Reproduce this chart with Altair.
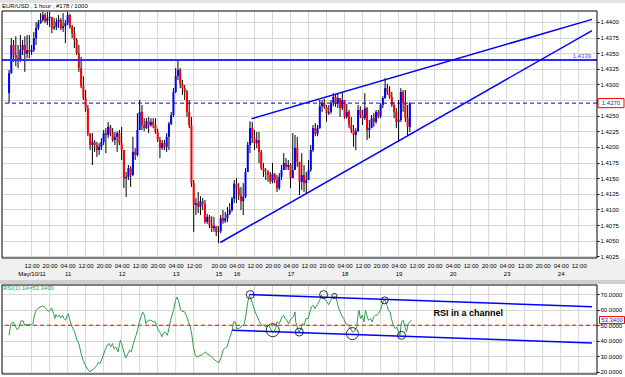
import altair as alt
import pandas as pd

# ---------------- data ----------------
FIRST_BAR = -10          # bar index of first visible hourly candle (bar 0 = May/10 12:00)
OPEN_FIRST = 1.4286

CLOSE = [
    1.4318, 1.4363, 1.4347, 1.4342, 1.4339, 1.4355, 1.4363, 1.4349, 1.4355, 1.4352,
    1.4355, 1.4374, 1.4390, 1.4398, 1.4403, 1.4411, 1.4401, 1.4406, 1.4408, 1.4390,
    1.4392, 1.4400, 1.4403, 1.4390, 1.4393, 1.4398, 1.4411, 1.4392, 1.4382, 1.4371,
    1.4350, 1.4326, 1.4297, 1.4278, 1.4262, 1.4221, 1.4203, 1.4208, 1.4203, 1.4195,
    1.4200, 1.4208, 1.4222, 1.4219, 1.4232, 1.4222, 1.4211, 1.4216, 1.4222, 1.4206,
    1.4195, 1.4150, 1.4152, 1.4166, 1.4155, 1.4192, 1.4187, 1.4227, 1.4256, 1.4235,
    1.4230, 1.4241, 1.4235, 1.4240, 1.4235, 1.4224, 1.4211, 1.4198, 1.4206, 1.4200,
    1.4216, 1.4237, 1.4251, 1.4288, 1.4313, 1.4323, 1.4301, 1.4294, 1.4288, 1.4256,
    1.4235, 1.4142, 1.4107, 1.4110, 1.4104, 1.4113, 1.4109, 1.4080, 1.4088, 1.4075,
    1.4070, 1.4073, 1.4064, 1.4065, 1.4086, 1.4081, 1.4086, 1.4093, 1.4099, 1.4117,
    1.4141, 1.4134, 1.4122, 1.4113, 1.4120, 1.4160, 1.4203, 1.4230, 1.4214, 1.4206,
    1.4211, 1.4192, 1.4166, 1.4160, 1.4160, 1.4155, 1.4145, 1.4157, 1.4147, 1.4134,
    1.4152, 1.4163, 1.4174, 1.4168, 1.4171, 1.4150, 1.4163, 1.4198, 1.4176, 1.4144,
    1.4155, 1.4142, 1.4147, 1.4163, 1.4195, 1.4230, 1.4221, 1.4230, 1.4265, 1.4270,
    1.4264, 1.4254, 1.4256, 1.4270, 1.4280, 1.4269, 1.4278, 1.4262, 1.4275, 1.4248,
    1.4256, 1.4235, 1.4227, 1.4219, 1.4225, 1.4259, 1.4251, 1.4246, 1.4262, 1.4227,
    1.4230, 1.4246, 1.4240, 1.4256, 1.4249, 1.4267, 1.4278, 1.4294, 1.4288, 1.4280,
    1.4267, 1.4256, 1.4240, 1.4243, 1.4288, 1.4270, 1.4246, 1.4232, 1.4270,
]
HIGH = [
    1.4323, 1.4374, 1.4371, 1.4377, 1.4363, 1.4379, 1.4371, 1.4377, 1.4379, 1.4379,
    1.4363, 1.4384, 1.4400, 1.4403, 1.4414, 1.4416, 1.4414, 1.4416, 1.4416, 1.4408,
    1.4406, 1.4406, 1.4411, 1.4406, 1.4414, 1.4403, 1.4416, 1.4413, 1.4395, 1.4392,
    1.4374, 1.4363, 1.4344, 1.4313, 1.4291, 1.4267, 1.4222, 1.4222, 1.4211, 1.4208,
    1.4206, 1.4214, 1.4227, 1.4230, 1.4240, 1.4235, 1.4230, 1.4224, 1.4225, 1.4227,
    1.4232, 1.4195, 1.4160, 1.4171, 1.4169, 1.4216, 1.4198, 1.4254, 1.4275, 1.4267,
    1.4246, 1.4246, 1.4248, 1.4246, 1.4246, 1.4246, 1.4229, 1.4216, 1.4211, 1.4211,
    1.4222, 1.4240, 1.4256, 1.4294, 1.4326, 1.4339, 1.4326, 1.4307, 1.4299, 1.4291,
    1.4275, 1.4248, 1.4147, 1.4118, 1.4128, 1.4121, 1.4118, 1.4115, 1.4093, 1.4091,
    1.4089, 1.4088, 1.4073, 1.4073, 1.4091, 1.4099, 1.4096, 1.4104, 1.4110, 1.4120,
    1.4147, 1.4150, 1.4142, 1.4136, 1.4142, 1.4166, 1.4208, 1.4241, 1.4240, 1.4227,
    1.4224, 1.4224, 1.4195, 1.4174, 1.4166, 1.4163, 1.4160, 1.4174, 1.4158, 1.4155,
    1.4158, 1.4171, 1.4190, 1.4182, 1.4179, 1.4174, 1.4222, 1.4219, 1.4216, 1.4171,
    1.4190, 1.4171, 1.4160, 1.4179, 1.4203, 1.4235, 1.4238, 1.4235, 1.4275, 1.4275,
    1.4277, 1.4267, 1.4267, 1.4275, 1.4286, 1.4283, 1.4286, 1.4278, 1.4288, 1.4275,
    1.4269, 1.4259, 1.4248, 1.4235, 1.4230, 1.4267, 1.4265, 1.4259, 1.4286, 1.4264,
    1.4243, 1.4251, 1.4254, 1.4259, 1.4259, 1.4270, 1.4281, 1.4310, 1.4301, 1.4297,
    1.4288, 1.4272, 1.4262, 1.4275, 1.4294, 1.4291, 1.4291, 1.4267, 1.4272,
]
LOW = [
    1.4270, 1.4317, 1.4336, 1.4329, 1.4326, 1.4336, 1.4347, 1.4320, 1.4342, 1.4342,
    1.4347, 1.4352, 1.4363, 1.4387, 1.4397, 1.4400, 1.4398, 1.4395, 1.4392, 1.4382,
    1.4387, 1.4387, 1.4390, 1.4387, 1.4384, 1.4366, 1.4395, 1.4389, 1.4374, 1.4358,
    1.4347, 1.4320, 1.4294, 1.4275, 1.4256, 1.4217, 1.4195, 1.4171, 1.4192, 1.4184,
    1.4187, 1.4195, 1.4203, 1.4190, 1.4214, 1.4217, 1.4208, 1.4203, 1.4192, 1.4203,
    1.4179, 1.4134, 1.4120, 1.4147, 1.4136, 1.4153, 1.4179, 1.4185, 1.4227, 1.4227,
    1.4225, 1.4229, 1.4222, 1.4232, 1.4230, 1.4221, 1.4208, 1.4182, 1.4195, 1.4195,
    1.4192, 1.4195, 1.4235, 1.4248, 1.4286, 1.4307, 1.4294, 1.4283, 1.4275, 1.4248,
    1.4230, 1.4136, 1.4064, 1.4091, 1.4094, 1.4091, 1.4099, 1.4077, 1.4077, 1.4070,
    1.4064, 1.4064, 1.4057, 1.4046, 1.4062, 1.4077, 1.4078, 1.4080, 1.4091, 1.4096,
    1.4110, 1.4110, 1.4115, 1.4099, 1.4091, 1.4118, 1.4160, 1.4190, 1.4206, 1.4195,
    1.4198, 1.4174, 1.4163, 1.4152, 1.4147, 1.4144, 1.4141, 1.4142, 1.4142, 1.4128,
    1.4131, 1.4147, 1.4163, 1.4163, 1.4163, 1.4134, 1.4155, 1.4163, 1.4168, 1.4123,
    1.4131, 1.4128, 1.4125, 1.4150, 1.4160, 1.4192, 1.4217, 1.4217, 1.4229, 1.4256,
    1.4261, 1.4240, 1.4251, 1.4253, 1.4265, 1.4264, 1.4262, 1.4248, 1.4259, 1.4245,
    1.4245, 1.4230, 1.4222, 1.4200, 1.4195, 1.4224, 1.4246, 1.4235, 1.4243, 1.4211,
    1.4214, 1.4230, 1.4232, 1.4237, 1.4246, 1.4246, 1.4262, 1.4277, 1.4283, 1.4277,
    1.4264, 1.4246, 1.4230, 1.4208, 1.4240, 1.4256, 1.4240, 1.4219, 1.4224,
]

PRICE_TICKS = [1.4025, 1.4050, 1.4075, 1.4100, 1.4125, 1.4150, 1.4175, 1.4200,
               1.4225, 1.4250, 1.4275, 1.4300, 1.4325, 1.4350, 1.4375, 1.4400]
PRICE_HIDDEN_LABEL = 1.4275   # covered by the current-price tag in the reference
PRICE_DOMAIN = [1.40222, 1.44174]
RESIST_LEVEL = 1.4339
WEDGE_UPPER_BAR = [97.7, 248.9]
WEDGE_UPPER_PRICE = [1.4245, 1.4404]
WEDGE_LOWER_BAR = [83.8, 248.9]
WEDGE_LOWER_PRICE = [1.4047, 1.4386]

TIME_BARS = [0, 8, 16, 24, 32, 40, 48, 56, 64, 72, 83, 91, 99, 107, 115, 123, 131,
             139, 147, 155, 163, 171, 179, 187, 195, 203, 211, 219, 227, 235, 243]
TIME_LABELS = ["12:00", "20:00", "04:00", "12:00", "20:00", "04:00", "12:00", "20:00",
               "04:00", "12:00", "20:00", "04:00", "12:00", "20:00", "04:00", "12:00",
               "20:00", "04:00", "12:00", "20:00", "04:00", "12:00", "20:00", "04:00",
               "12:00", "20:00", "04:00", "12:00", "20:00", "04:00", "12:00"]
DAY_BARS = [0, 16, 40, 64, 83, 91, 115, 139, 163, 187, 211, 235]
DAY_LABELS = ["May/10/11", "11", "12", "13", "15", "16", "17", "18", "19", "20", "23", "24"]

RSI_BAR = [
    -10.0, -9.2, -8.2, -7.1, -6.3, -5.7, -4.8, -3.8, -3.1, -2.3,
    -1.3, -0.1, 0.6, 1.3, 2.0, 2.8, 3.9, 4.9, 5.7, 6.4,
    7.4, 8.3, 8.9, 9.8, 10.3, 10.8, 11.5, 12.2, 13.0, 13.7,
    14.4, 15.1, 15.9, 16.3, 17.0, 18.0, 19.1, 20.2, 21.0, 22.0,
    22.9, 23.9, 24.9, 25.8, 26.8, 27.8, 29.0, 29.7, 30.4, 31.6,
    32.6, 33.6, 34.5, 35.1, 36.0, 36.5, 37.4, 38.4, 39.4, 39.9,
    40.6, 41.8, 42.8, 43.5, 44.3, 45.0, 45.7, 46.4, 47.2, 47.9,
    48.6, 49.3, 50.1, 50.8, 51.9, 53.0, 54.0, 54.9, 55.5, 56.3,
    57.4, 57.8, 58.4, 59.2, 60.3, 61.0, 61.7, 62.4, 63.2, 63.9,
    64.6, 65.4, 66.1, 66.8, 68.0, 69.0, 69.7, 70.5, 71.2, 71.9,
    72.6, 73.4, 74.4, 75.3, 76.3, 77.3, 78.2,
    79.2, 80.6, 82.1, 83.3, 84.3, 85.0, 85.7, 86.8, 87.9, 89.1,
    89.7, 90.5, 91.1, 92.0, 93.0, 93.7, 94.5, 95.2, 95.9, 96.7,
    97.4, 98.1, 98.8, 99.6, 100.3, 101.0, 101.7, 102.5, 103.2, 103.9,
    105.4, 106.1, 106.8, 107.6, 108.3, 109.0, 110.0, 111.2, 111.9, 112.6,
    113.4, 114.1, 115.3, 116.3, 117.0, 117.3, 118.2, 118.8, 119.7, 120.2,
    121.1, 121.8, 122.9, 123.6, 124.3, 125.0, 125.8, 126.9, 127.9, 128.7,
    129.4, 130.1, 131.3, 131.9, 132.8, 134.1, 135.1, 135.7, 136.2, 137.1,
    137.7, 138.6, 139.6, 140.6, 141.8, 142.5, 143.2, 144.4, 145.0, 145.4,
    146.1, 146.9, 147.6, 148.3, 148.9, 149.6, 150.5, 151.2, 152.0, 152.7,
    153.4, 154.1, 154.9, 155.6, 156.3, 157.0, 157.8, 158.5, 159.2, 160.0,
    160.7, 161.4, 162.2, 162.9, 163.6, 164.3, 165.1, 165.8, 166.5, 167.3,
    168.0, 168.7,
]
RSI_VAL = [
    43.5, 51.0, 52.0, 49.0, 47.0, 48.0, 52.6, 53.0, 50.0, 50.4,
    50.4, 50.4, 51.0, 56.5, 59.7, 60.8, 61.8, 62.5, 61.8, 60.8,
    59.0, 59.7, 61.2, 57.5, 54.3, 56.9, 55.4, 56.5, 54.7, 56.5,
    54.3, 53.2, 56.5, 57.5, 53.2, 48.9, 45.7, 40.3, 38.2, 31.7,
    27.4, 24.2, 21.6, 19.9, 21.0, 22.0, 24.2, 26.3, 25.2, 29.5,
    33.9, 37.1, 38.2, 36.0, 38.2, 34.9, 36.0, 32.8, 40.3, 38.2,
    34.9, 28.9, 31.7, 33.9, 32.8, 37.1, 40.3, 43.5, 47.8, 52.2,
    55.4, 58.6, 56.5, 51.0, 53.2, 53.2, 52.2, 52.2, 50.0, 46.8,
    44.6, 42.5, 44.6, 45.7, 43.5, 47.8, 53.2, 56.5, 60.8, 66.1,
    68.3, 65.1, 60.3, 59.0, 58.6, 55.4, 52.2, 48.9, 43.5, 36.0,
    31.1, 29.5, 30.2, 30.6, 31.7, 32.8, 31.1,
    30.6, 28.5, 26.7, 25.9, 29.5, 33.9, 34.9, 36.0, 41.4, 46.8,
    52.2, 52.2, 47.8, 47.8, 48.9, 50.0, 51.0, 56.5, 64.0, 69.4,
    67.2, 64.0, 60.8, 57.5, 55.4, 53.2, 51.0, 49.6, 50.4, 48.9,
    50.0, 47.8, 45.7, 45.7, 47.8, 52.2, 51.0, 55.4, 56.5, 54.3,
    53.2, 51.0, 54.3, 55.4, 58.6, 52.2, 47.8, 45.7, 47.8, 51.0,
    50.0, 54.3, 54.3, 58.6, 61.8, 62.9, 60.8, 63.3, 66.1, 69.4,
    68.3, 66.8, 65.1, 63.3, 66.1, 68.3, 68.3, 65.1, 61.8, 58.6,
    56.5, 54.3, 51.0, 50.0, 47.8, 45.7, 45.7, 48.9, 56.5, 59.7,
    54.3, 56.5, 52.2, 59.7, 56.5, 53.2, 54.3, 52.2, 55.4, 56.5,
    56.5, 57.5, 59.7, 62.9, 66.1, 66.1, 62.9, 59.7, 58.6, 53.2,
    50.0, 47.8, 48.9, 45.7, 43.5, 52.2, 53.2, 48.9, 45.7, 51.0,
    52.2, 53.3,
]
RSI_LAST = 53.34
RSI_TICKS = [20, 30, 40, 50, 60, 70]
RSI_DOMAIN = [18.5, 76.0]
RSI_MID = 50
CH_UPPER_BAR = [96.7, 248.9]
CH_UPPER_RSI = [69.8, 62.0]
CH_LOWER_BAR = [89.1, 248.9]
CH_LOWER_RSI = [46.8, 38.6]
CIRC_BAR = [97.1, 107.1, 118.9, 129.7, 134.5, 142.5, 156.8, 164.3]
CIRC_RSI = [69.8, 46.8, 45.6, 69.8, 69.0, 44.6, 66.1, 43.5]
CIRC_DIAM = [8, 13, 8, 8, 5, 12, 7, 8]
NOTE_TEXT = "RSI in a channel"
NOTE_BAR, NOTE_RSI = 193.9, 57.6
HEADER = "EUR/USD , 1 hour , #178 / 1000"

# ---------------- styles ----------------
FONT = "Liberation Sans"
GRID = "#d6d6d6"
BLUE = "#0000ff"
RED = "#ff0000"
GREEN = "#2f9e4a"

X = alt.Scale(domain=[-10.92, 248.9], nice=False, zero=False)
YP = alt.Scale(domain=PRICE_DOMAIN, range=[247, 0], nice=False, zero=False)
YR = alt.Scale(domain=RSI_DOMAIN, range=[363, 274], nice=False, zero=False)

one = pd.DataFrame({"k": [0]})


def expr_map(bars, labels):
    parts = [f"datum.value == {b} ? '{l}'" for b, l in zip(bars, labels)]
    return " : ".join(parts) + " : ''"


def x_axis(bars, labels, pad):
    return alt.Axis(values=bars, labelExpr=expr_map(bars, labels), orient="bottom",
                    offset=-116, ticks=False, domain=False, grid=False, labelFontSize=6,
                    labelFont=FONT, labelColor="black", labelPadding=pad, labelFlush=False,
                    labelOverlap=False, title=None, zindex=1)


def y_axis(values, label_expr=None):
    kw = dict(orient="right", values=values, format=".4f", labelFontSize=6,
              labelFont=FONT, labelColor="black", tickSize=2, tickColor="black",
              domain=False, grid=True, gridColor=GRID, gridWidth=1, labelPadding=1,
              labelFlush=False, labelOverlap=False, title=None)
    if label_expr:
        kw["labelExpr"] = label_expr
    return alt.Axis(**kw)


def rect(x0, x1, y0, y1, fill, stroke=None):
    kw = dict(fill=fill, strokeWidth=0)
    if stroke:
        kw = dict(fill="white", fillOpacity=0, stroke=stroke, strokeWidth=1)
    return alt.Chart(one).mark_rect(**kw).encode(
        x=alt.value(x0), x2=alt.value(x1), y=alt.value(y0), y2=alt.value(y1))


def text_at(x, y, txt, **kw):
    return alt.Chart(pd.DataFrame({"t": [txt]})).mark_text(font=FONT, **kw).encode(
        x=alt.value(x), y=alt.value(y), text="t:N")


# ---------------- candles ----------------
n = len(CLOSE)
opens = [OPEN_FIRST] + CLOSE[:-1]
cdf = pd.DataFrame({
    "bar": list(range(FIRST_BAR, FIRST_BAR + n)),
    "open": opens, "close": CLOSE,
    "hi": [max(h, o, c) for h, o, c in zip(HIGH, opens, CLOSE)],
    "lo": [min(l, o, c) for l, o, c in zip(LOW, opens, CLOSE)],
})
cdf["dir"] = ["up" if c >= o else "down" for o, c in zip(opens, CLOSE)]

vg_main = pd.DataFrame({"bar": TIME_BARS, "top": PRICE_DOMAIN[1], "bot": PRICE_DOMAIN[0]})
vgrid_main = alt.Chart(vg_main).mark_rule(color=GRID, strokeWidth=1).encode(
    x=alt.X("bar:Q", scale=X, axis=x_axis(TIME_BARS, TIME_LABELS, 4)),
    y=alt.Y("top:Q", scale=YP, axis=None), y2="bot:Q")

price_label_expr = (f"abs(datum.value - {PRICE_HIDDEN_LABEL}) < 0.00001 ? '' : "
                    "format(datum.value, '.4f')")
wicks = alt.Chart(cdf).mark_rule(color="black", strokeWidth=1).encode(
    x=alt.X("bar:Q", scale=X, axis=None),
    y=alt.Y("lo:Q", scale=YP, axis=y_axis(PRICE_TICKS, price_label_expr)), y2="hi:Q")

bodies = alt.Chart(cdf).mark_bar(size=2).encode(
    x=alt.X("bar:Q", scale=X, axis=None),
    y=alt.Y("open:Q", scale=YP, axis=None), y2="close:Q",
    color=alt.Color("dir:N", scale=alt.Scale(domain=["up", "down"], range=[BLUE, RED]),
                    legend=None))

resist = alt.Chart(pd.DataFrame({"p": [RESIST_LEVEL]})).mark_rule(
    color="#2b2bff", strokeWidth=2).encode(y=alt.Y("p:Q", scale=YP, axis=None))
last_line = alt.Chart(pd.DataFrame({"p": [CLOSE[-1]]})).mark_rule(
    color=BLUE, strokeWidth=1, strokeDash=[4, 3]).encode(y=alt.Y("p:Q", scale=YP, axis=None))

wedge_df = pd.DataFrame({
    "bar": WEDGE_UPPER_BAR + WEDGE_LOWER_BAR,
    "price": WEDGE_UPPER_PRICE + WEDGE_LOWER_PRICE,
    "id": ["u", "u", "l", "l"]})
wedge = alt.Chart(wedge_df).mark_line(color=BLUE, strokeWidth=1.5).encode(
    x=alt.X("bar:Q", scale=X, axis=None), y=alt.Y("price:Q", scale=YP, axis=None),
    detail="id:N")

resist_lbl = alt.Chart(pd.DataFrame({"bar": [248.5], "p": [RESIST_LEVEL],
                                     "t": [f"{RESIST_LEVEL:.4f}"]})).mark_text(
    font=FONT, fontSize=6, align="right", baseline="bottom", dy=-1, color="#4f4fd8").encode(
    x=alt.X("bar:Q", scale=X, axis=None), y=alt.Y("p:Q", scale=YP, axis=None), text="t:N")

TAG_P = "M-1,-0.35L1,-0.35L1,0.35L-1,0.35Z"
tag_df = pd.DataFrame({"p": [CLOSE[-1]], "t": [f"{CLOSE[-1]:.4f}"]})
price_tag_box = alt.Chart(tag_df).mark_point(
    shape=TAG_P, size=676, filled=True, fill="white", stroke=RED, strokeWidth=1,
    opacity=1).encode(x=alt.value(609), y=alt.Y("p:Q", scale=YP, axis=None))
price_tag_txt = alt.Chart(tag_df).mark_text(font=FONT, fontSize=6, color="#2020c8").encode(
    x=alt.value(609), y=alt.Y("p:Q", scale=YP, axis=None), text="t:N")

# ---------------- RSI panel ----------------
vg_rsi = pd.DataFrame({"bar": TIME_BARS, "top": RSI_DOMAIN[1], "bot": RSI_DOMAIN[0]})
vgrid_rsi = alt.Chart(vg_rsi).mark_rule(color=GRID, strokeWidth=1).encode(
    x=alt.X("bar:Q", scale=X, axis=x_axis(DAY_BARS, DAY_LABELS, 12)),
    y=alt.Y("top:Q", scale=YR, axis=None), y2="bot:Q")

mid = alt.Chart(pd.DataFrame({"v": [RSI_MID]})).mark_rule(
    color=RED, strokeWidth=1, strokeDash=[4, 3]).encode(y=alt.Y("v:Q", scale=YR, axis=None))

rsi_df = pd.DataFrame({"bar": RSI_BAR, "rsi": RSI_VAL})
rsi_line = alt.Chart(rsi_df).mark_line(color=GREEN, strokeWidth=1).encode(
    x=alt.X("bar:Q", scale=X, axis=None),
    y=alt.Y("rsi:Q", scale=YR, axis=y_axis(RSI_TICKS)))

ch_df = pd.DataFrame({"bar": CH_UPPER_BAR + CH_LOWER_BAR,
                      "rsi": CH_UPPER_RSI + CH_LOWER_RSI, "id": ["u", "u", "l", "l"]})
channel = alt.Chart(ch_df).mark_line(color=BLUE, strokeWidth=1.5).encode(
    x=alt.X("bar:Q", scale=X, axis=None), y=alt.Y("rsi:Q", scale=YR, axis=None),
    detail="id:N")

circ_df = pd.DataFrame({"bar": CIRC_BAR, "rsi": CIRC_RSI,
                        "area": [d * d for d in CIRC_DIAM]})
circles = alt.Chart(circ_df).mark_point(shape="circle", filled=False, color="black",
                                        strokeWidth=0.8, opacity=1).encode(
    x=alt.X("bar:Q", scale=X, axis=None), y=alt.Y("rsi:Q", scale=YR, axis=None),
    size=alt.Size("area:Q", scale=None, legend=None))

note = alt.Chart(pd.DataFrame({"bar": [NOTE_BAR], "rsi": [NOTE_RSI], "t": [NOTE_TEXT]})).mark_text(
    font=FONT, fontSize=9, fontWeight="bold", color="black").encode(
    x=alt.X("bar:Q", scale=X, axis=None), y=alt.Y("rsi:Q", scale=YR, axis=None), text="t:N")

rtag_df = pd.DataFrame({"v": [RSI_LAST], "t": [f"{RSI_LAST:.4f}"]})
rsi_tag_box = alt.Chart(rtag_df).mark_point(
    shape="M-1,-0.28L1,-0.28L1,0.28L-1,0.28Z", size=625, filled=True, fill="white",
    stroke=RED, strokeWidth=1, opacity=1).encode(
    x=alt.value(610), y=alt.Y("v:Q", scale=YR, axis=None))
rsi_tag_txt = alt.Chart(rtag_df).mark_text(font=FONT, fontSize=6, color="#2020c8").encode(
    x=alt.value(610), y=alt.Y("v:Q", scale=YR, axis=None), text="t:N")

chart = alt.layer(
    rect(-2, 623, 248, 269, "#f0f0f0"),
    rect(-2, 623, 269, 273, "#cfcfcf"),
    rect(-2, 623, -11, -8, "#e2e2e2"),
    vgrid_main, wicks, bodies, resist, last_line, wedge, resist_lbl,
    price_tag_box, price_tag_txt,
    vgrid_rsi, mid, rsi_line, channel, circles, note, rsi_tag_box, rsi_tag_txt,
    text_at(1, 276.5, f"RSI(1) 14={RSI_LAST:.4f}", fontSize=6, align="left",
            baseline="middle", color=GREEN),
    text_at(0, -5, HEADER, fontSize=6, align="left", baseline="middle", color="black"),
    rect(0, 595, 0, 247, None, stroke="black"),
    rect(0, 595, 274, 363, None, stroke="black"),
).resolve_scale(y="independent").resolve_axis(
    x="independent", y="independent").properties(
    width=595, height=363,
    autosize=alt.AutoSizeParams(type="none"),
    padding={"left": 2, "top": 11, "right": 28, "bottom": 3},
    background="white",
).configure_view(stroke=None)

chart.save("out.html", embed_options={"renderer": "svg", "actions": False})
